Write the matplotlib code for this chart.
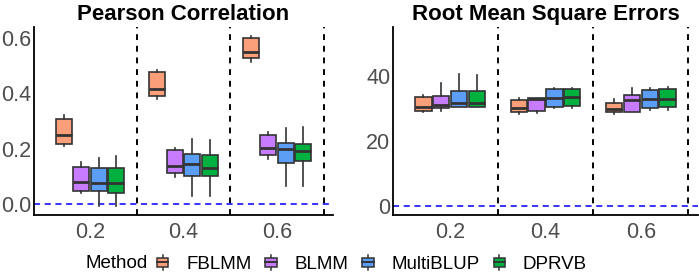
import matplotlib
matplotlib.use("Agg")
import matplotlib.pyplot as plt
from matplotlib.patches import Patch, Rectangle
from matplotlib.lines import Line2D
from matplotlib.legend_handler import HandlerBase

plt.rcParams["font.family"] = ["Liberation Sans", "DejaVu Sans"]

# heritability levels on the x axis
levels = ["0.2", "0.4", "0.6"]
methods = ["FBLMM", "BLMM", "MultiBLUP", "DPRVB"]
colors = ["#FB9E7A", "#C77CFF", "#5C9DF5", "#00B140"]

# box stats per method, one tuple per level: (whislo, q1, med, q3, whishi)
pearson_fblmm = [(0.210, 0.216, 0.249, 0.307, 0.321),
                 (0.378, 0.391, 0.415, 0.476, 0.483),
                 (0.511, 0.525, 0.547, 0.597, 0.607)]
pearson_blmm = [(0.042, 0.047, 0.080, 0.135, 0.153),
                (0.097, 0.112, 0.139, 0.195, 0.204),
                (0.162, 0.177, 0.201, 0.249, 0.259)]
pearson_multiblup = [(-0.008, 0.049, 0.078, 0.130, 0.167),
                     (0.030, 0.100, 0.143, 0.182, 0.234),
                     (0.066, 0.147, 0.198, 0.222, 0.276)]
pearson_dprvb = [(-0.008, 0.040, 0.076, 0.130, 0.174),
                 (0.028, 0.102, 0.129, 0.177, 0.231),
                 (0.066, 0.155, 0.192, 0.216, 0.279)]

rmse_fblmm = [(29.0, 29.2, 30.6, 33.4, 34.2),
              (28.2, 29.0, 30.1, 32.6, 33.3),
              (28.2, 28.8, 30.0, 31.8, 32.8)]
rmse_blmm = [(29.2, 30.2, 31.2, 33.9, 38.0),
             (28.5, 29.3, 32.8, 33.1, 33.3),
             (28.9, 29.0, 32.6, 34.2, 36.3)]
rmse_multiblup = [(30.4, 30.6, 31.6, 35.4, 40.6),
                  (30.1, 30.6, 33.3, 35.9, 36.2),
                  (29.5, 30.3, 32.8, 35.7, 36.3)]
rmse_dprvb = [(30.4, 30.6, 31.6, 35.4, 40.4),
              (30.1, 30.8, 33.5, 36.1, 36.3),
              (29.5, 30.6, 32.9, 35.9, 36.5)]

pearson = [pearson_fblmm, pearson_blmm, pearson_multiblup, pearson_dprvb]
rmse = [rmse_fblmm, rmse_blmm, rmse_multiblup, rmse_dprvb]

offsets = [-0.281, -0.094, 0.094, 0.281]
box_w = 0.17
edge = "#333333"


class BoxKey(HandlerBase):
    # little boxplot glyph for the legend keys
    def create_artists(self, legend, orig_handle, xdescent, ydescent,
                       width, height, fontsize, trans):
        bw = width
        bh = height * 0.6
        x0 = -xdescent
        y0 = -ydescent + (height - bh) / 2
        xc = x0 + width / 2
        box = Rectangle((x0, y0), bw, bh, facecolor=orig_handle.get_facecolor(),
                        edgecolor=edge, linewidth=1.1, transform=trans)
        med = Line2D([x0, x0 + bw], [y0 + bh / 2] * 2, color=edge, linewidth=1.4,
                     transform=trans)
        top = Line2D([xc, xc], [y0 + bh, -ydescent + height], color=edge,
                     linewidth=1.1, transform=trans)
        bot = Line2D([xc, xc], [-ydescent, y0], color=edge, linewidth=1.1,
                     transform=trans)
        return [top, bot, box, med]


def draw_panel(ax, data, title, ylim, yticks, yticklabels):
    for m, stats_list in enumerate(data):
        stats = []
        for lo, q1, med, q3, hi in stats_list:
            stats.append(dict(whislo=lo, q1=q1, med=med, q3=q3, whishi=hi, fliers=[]))
        pos = [i + 1 + offsets[m] for i in range(len(levels))]
        ax.bxp(stats, positions=pos, widths=box_w, patch_artist=True,
               showcaps=False, manage_ticks=False,
               boxprops=dict(facecolor=colors[m], edgecolor=edge, linewidth=1.2),
               medianprops=dict(color=edge, linewidth=2),
               whiskerprops=dict(color=edge, linewidth=1.2))
    for xv in [1.5, 2.5, 3.5]:
        ax.axvline(xv, color="black", linestyle=(0, (3, 3)), linewidth=1.4, zorder=0)
    ax.axhline(0, color="#0000FF", linestyle=(0, (4, 3)), linewidth=1.1, zorder=0)

    ax.set_xlim(0.4, 3.6)
    ax.set_ylim(*ylim)
    ax.set_xticks([1, 2, 3])
    ax.set_xticklabels(levels)
    ax.set_yticks(yticks)
    ax.set_yticklabels(yticklabels)
    ax.tick_params(axis="y", length=0, labelsize=15.5, labelcolor="#4D4D4D", pad=2)
    ax.tick_params(axis="x", length=0, labelsize=15.5, labelcolor="#4D4D4D", pad=5)
    ax.spines["top"].set_visible(False)
    ax.spines["right"].set_visible(False)
    for s in ["left", "bottom"]:
        ax.spines[s].set_linewidth(1.3)
        ax.spines[s].set_color("black")
    ax.set_title(title, fontsize=16, fontweight="bold", pad=5)


fig = plt.figure(figsize=(6.99, 2.74), dpi=100)
ax1 = fig.add_axes([34 / 699, 59 / 274, 299 / 699, 188 / 274])
ax2 = fig.add_axes([393 / 699, 59 / 274, 305 / 699, 188 / 274])

draw_panel(ax1, pearson, "Pearson Correlation", (-0.039, 0.638),
           [0.0, 0.2, 0.4, 0.6], ["0.0", "0.2", "0.4", "0.6"])
draw_panel(ax2, rmse, "Root Mean Square Errors", (-2.77, 55.1),
           [0, 20, 40], ["0", "20", "40"])

handles = [Patch(facecolor=c, edgecolor=edge) for c in colors]
fig.text(148 / 699, 10 / 274, "Method", ha="right", va="center", fontsize=13.5)
fig.legend(handles, methods, loc="center left", bbox_to_anchor=(157 / 699, 10 / 274),
           ncol=4, frameon=False, fontsize=13.5, handlelength=0.6, handleheight=0.85,
           handletextpad=0.95, columnspacing=0.75, borderpad=0, borderaxespad=0,
           handler_map={Patch: BoxKey()})

fig.savefig("out.png", dpi=100)
